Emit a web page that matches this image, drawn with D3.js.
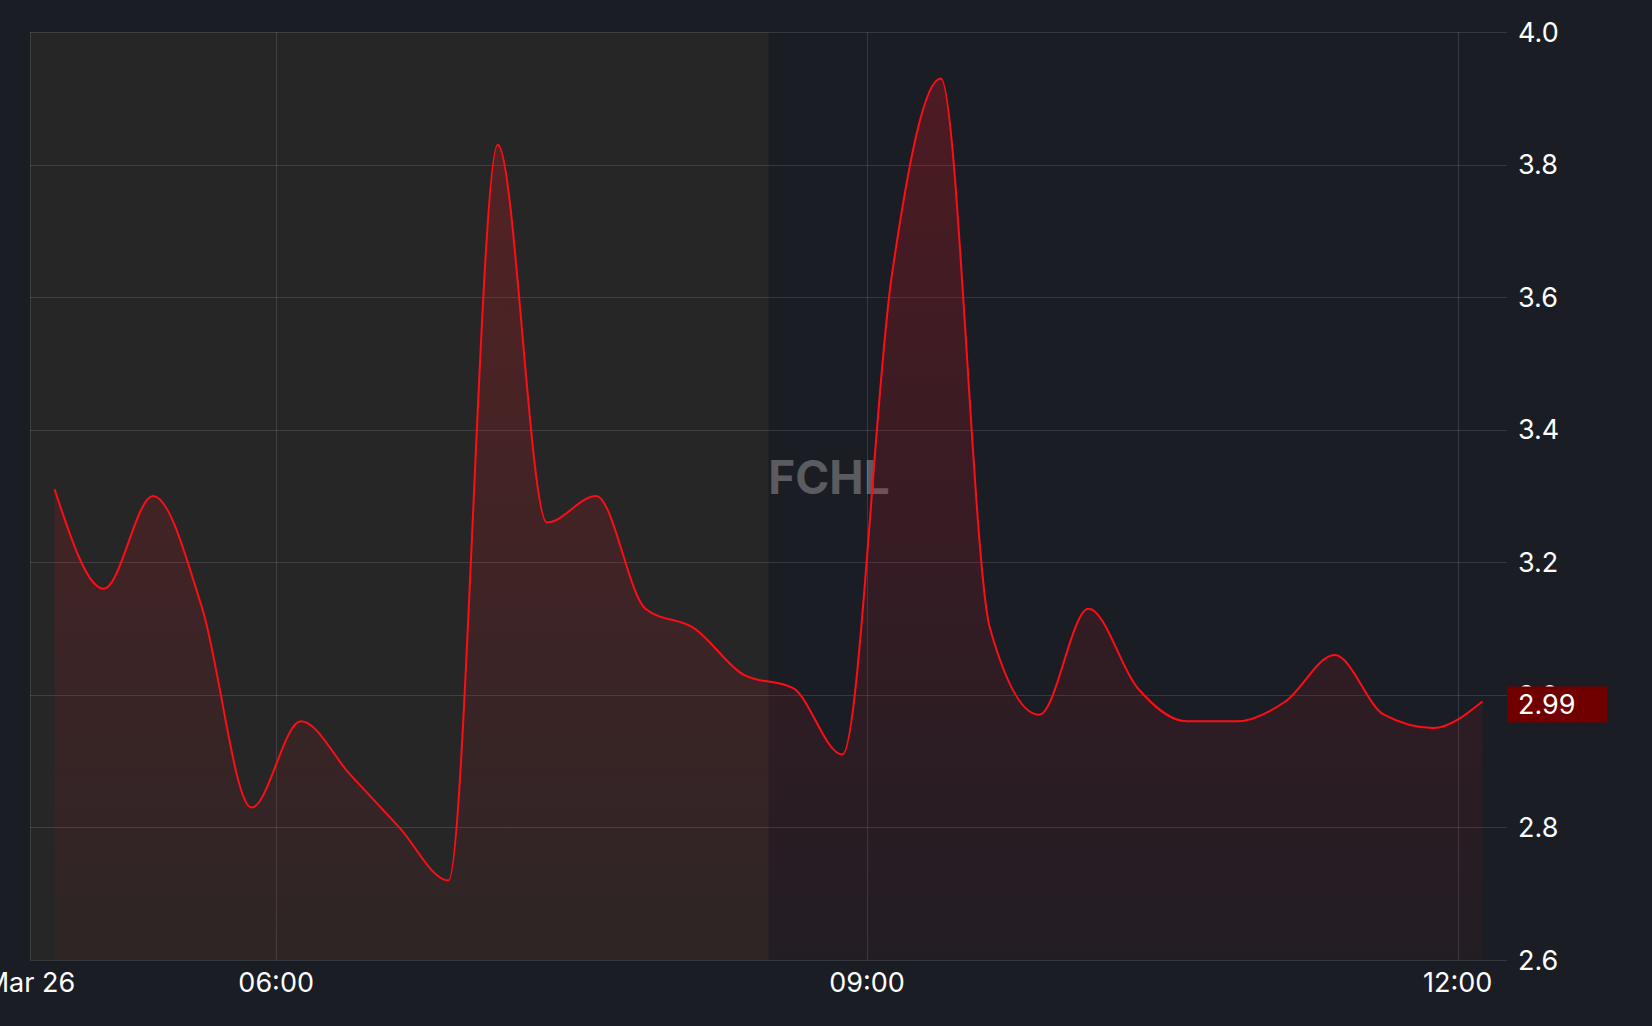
<!DOCTYPE html>
<html>
<head>
<meta charset="utf-8">
<script src="https://cdn.jsdelivr.net/npm/d3@7"></script>
<style>
  html, body { margin: 0; padding: 0; background: #1a1d24; }
  svg { display: block; font-family: Inter, Roboto, sans-serif; }
</style>
</head>
<body>
<div class="d3-chart"></div>
<script>
const symbol = "FCHL";
const day = "2024-03-26";

// 15-minute slots (start times), value drawn at slot centre
const slots = [
  "04:45", "05:00", "05:15", "05:30", "05:45", "06:00", "06:15", "06:30", "06:45", "07:00",
  "07:15", "07:30", "07:45", "08:00", "08:15", "08:30", "08:45", "09:00", "09:15", "09:30",
  "09:45", "10:00", "10:15", "10:30", "10:45", "11:00", "11:15", "11:30", "11:45", "12:00"
];
const prices = [
  3.31, 3.16, 3.30, 3.13, 2.83, 2.96, 2.88, 2.80, 2.72, 3.83,
  3.26, 3.30, 3.13, 3.10, 3.03, 3.01, 2.91, 3.63, 3.93, 3.10,
  2.97, 3.13, 3.01, 2.96, 2.96, 2.99, 3.06, 2.97, 2.95, 2.99
];
const yTicks = [2.6, 2.8, 3.0, 3.2, 3.4, 3.6, 3.8, 4.0];
const xTickTimes = ["04:45", "06:00", "09:00", "12:00"];
const xDomain = ["04:45", "12:15"];
const preMarket = ["04:45", "08:30"];
const lastPrice = 2.99;

const W = 1652, H = 1026;
const plot = {left: 30, right: 1507, top: 32, bottom: 960};

const parse = s => d3.timeParse("%Y-%m-%d %H:%M")(`${day} ${s}`);
const data = slots.map((s, i) => ({t: d3.timeSecond.offset(parse(s), 450), v: prices[i]}));

const x = d3.scaleTime().domain(xDomain.map(parse)).range([plot.left, plot.right]);
const y = d3.scaleLinear().domain([2.6, 4.0]).range([plot.bottom, plot.top]);

const svg = d3.select(".d3-chart")
  .append("svg")
  .attr("width", W)
  .attr("height", H);

svg.append("rect").attr("width", W).attr("height", H).attr("fill", "#1a1d24");

// pre-market shading
svg.append("rect")
  .attr("x", x(parse(preMarket[0])))
  .attr("y", plot.top)
  .attr("width", x(parse(preMarket[1])) - x(parse(preMarket[0])))
  .attr("height", plot.bottom - plot.top)
  .attr("fill", "#262626");

// grid
const grid = svg.append("g").attr("stroke", "rgba(255,255,255,0.12)").attr("stroke-width", 1);
grid.selectAll("line.h")
  .data(yTicks)
  .join("line")
  .attr("class", "h")
  .attr("x1", plot.left).attr("x2", plot.right)
  .attr("y1", d => Math.round(y(d)) + 0.5).attr("y2", d => Math.round(y(d)) + 0.5);
grid.selectAll("line.v")
  .data(xTickTimes.slice(1).map(parse))
  .join("line")
  .attr("class", "v")
  .attr("x1", d => Math.round(x(d)) + 0.5).attr("x2", d => Math.round(x(d)) + 0.5)
  .attr("y1", plot.top).attr("y2", plot.bottom);
grid.append("line")
  .attr("x1", plot.left + 0.5).attr("x2", plot.left + 0.5)
  .attr("y1", plot.top).attr("y2", plot.bottom);

// watermark
svg.append("text")
  .attr("x", 829)
  .attr("y", 477)
  .attr("dy", "0.36em")
  .attr("text-anchor", "middle")
  .attr("font-size", 46)
  .attr("font-weight", 700)
  .attr("fill", "rgba(255,255,255,0.28)")
  .text(symbol);

// area gradient
const grad = svg.append("defs").append("linearGradient")
  .attr("id", "fillGrad")
  .attr("gradientUnits", "userSpaceOnUse")
  .attr("x1", 0).attr("x2", 0)
  .attr("y1", plot.top).attr("y2", plot.bottom);
grad.append("stop").attr("offset", "0%").attr("stop-color", "rgb(230,20,30)").attr("stop-opacity", 0.26);
grad.append("stop").attr("offset", "100%").attr("stop-color", "rgb(230,20,30)").attr("stop-opacity", 0.04);

const curve = d3.curveMonotoneX;

svg.append("path")
  .datum(data)
  .attr("fill", "url(#fillGrad)")
  .attr("d", d3.area().curve(curve).x(d => x(d.t)).y0(plot.bottom).y1(d => y(d.v)));

svg.append("path")
  .datum(data)
  .attr("fill", "none")
  .attr("stroke", "#ff0d17")
  .attr("stroke-width", 2)
  .attr("stroke-linejoin", "round")
  .attr("d", d3.line().curve(curve).x(d => x(d.t)).y(d => y(d.v)));

// y axis labels
svg.append("g")
  .selectAll("text")
  .data(yTicks)
  .join("text")
  .attr("x", 1518)
  .attr("y", d => y(d))
  .attr("dy", "0.36em")
  .attr("font-size", 27)
  .attr("fill", "#ffffff")
  .text(d => d.toFixed(1));

// x axis labels
const fmt = d3.timeFormat("%H:%M");
svg.append("g")
  .selectAll("text")
  .data(xTickTimes.map(parse))
  .join("text")
  .attr("x", d => x(d))
  .attr("y", 982)
  .attr("dy", "0.36em")
  .attr("text-anchor", "middle")
  .attr("font-size", 27)
  .attr("fill", "#ffffff")
  .text((d, i) => i === 0 ? d3.timeFormat("%b %-d")(d) : fmt(d));

// last price tag
const tag = svg.append("g").attr("transform", `translate(${plot.right},${y(lastPrice)})`);
tag.append("rect")
  .attr("x", 0).attr("y", -15)
  .attr("width", 100).attr("height", 36)
  .attr("fill", "#700000");
tag.append("text")
  .attr("x", 11)
  .attr("y", 3)
  .attr("dy", "0.36em")
  .attr("font-size", 27)
  .attr("fill", "#ffffff")
  .text(lastPrice.toFixed(2));
</script>
</body>
</html>
